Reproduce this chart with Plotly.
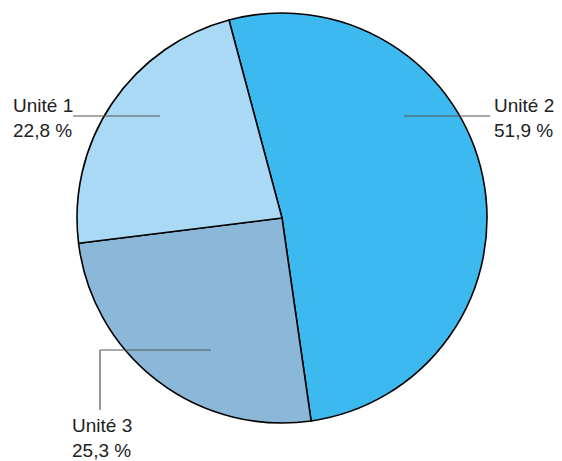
import plotly.graph_objects as go

# la page ajoute une marge de 8 px autour de la figure
OFF = 8
W, H = 562 - OFF, 461 - OFF

unites = ["Unité 2", "Unité 3", "Unité 1"]
parts = [51.9, 25.3, 22.8]
couleurs = ["#3cb9ef", "#8bb8d8", "#aad9f6"]


def px(x, y):
    # pixel de la fenêtre -> coordonnées papier
    return (x - OFF) / W, 1 - (y - OFF) / H


def pct(v):
    return f"{v:.1f}".replace(".", ",") + " %"


x0, y_top = px(77, 13)
x1, y_bot = px(487, 423)

fig = go.Figure()
fig.add_trace(go.Pie(
    labels=unites, values=parts, sort=False, direction="clockwise",
    rotation=-15, textinfo="none", hoverinfo="label+percent",
    marker=dict(colors=couleurs, line=dict(color="#000000", width=1.6)),
    domain=dict(x=[x0, x1], y=[y_bot, y_top]),
    showlegend=False,
))

# lignes de rappel (étiquettes extérieures)
lignes = {
    "Unité 1": [(160, 116), (73, 116)],
    "Unité 2": [(404, 116), (490, 116)],
    "Unité 3": [(211, 350), (100, 350), (100, 410)],
}
for nom, pts in lignes.items():
    for (xa, ya), (xb, yb) in zip(pts[:-1], pts[1:]):
        a0, b0 = px(xa, ya)
        a1, b1 = px(xb, yb)
        fig.add_shape(type="line", xref="paper", yref="paper",
                      x0=a0, y0=b0, x1=a1, y1=b1,
                      line=dict(color="#555555", width=1.2))

positions = {"Unité 1": (11, 93), "Unité 2": (492, 93), "Unité 3": (70, 413)}
for nom, v in zip(unites, parts):
    x, y = px(*positions[nom])
    fig.add_annotation(
        x=x, y=y, xref="paper", yref="paper", xanchor="left", yanchor="top",
        text=f"{nom}<br>{pct(v)}", showarrow=False, align="left",
        font=dict(size=19, color="#222222", family="Liberation Sans, Arial, sans-serif"),
    )

fig.update_layout(
    width=W, height=H, margin=dict(l=0, r=0, t=0, b=0),
    paper_bgcolor="white", plot_bgcolor="white",
)
fig.write_html("out.html")
